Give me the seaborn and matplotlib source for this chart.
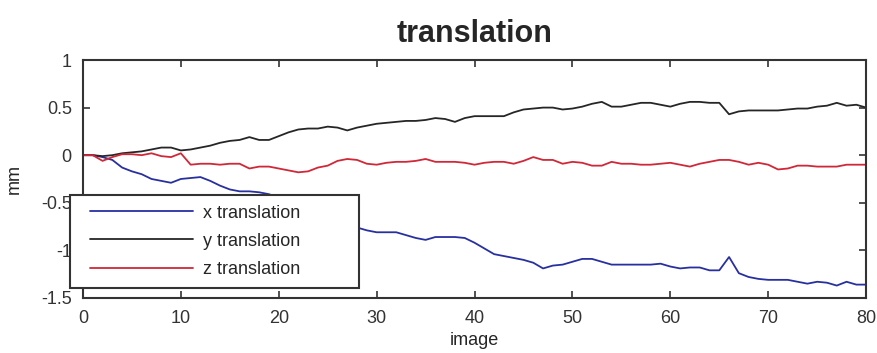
import numpy as np
import pandas as pd
import matplotlib
matplotlib.use("Agg")
import matplotlib.pyplot as plt
from matplotlib.lines import Line2D
from matplotlib.legend_handler import HandlerLine2D
import seaborn as sns

image = list(range(0, 81))

x_translation = [0, 0, -0.02, -0.05, -0.13, -0.17, -0.2, -0.25, -0.27, -0.29,
                 -0.25, -0.24, -0.23, -0.27, -0.32, -0.36, -0.38, -0.38, -0.39, -0.41,
                 -0.45, -0.5, -0.55, -0.6, -0.64, -0.68, -0.71, -0.74, -0.76, -0.79,
                 -0.81, -0.81, -0.81, -0.84, -0.87, -0.89, -0.86, -0.86, -0.86, -0.87,
                 -0.92, -0.98, -1.04, -1.06, -1.08, -1.1, -1.13, -1.19, -1.16, -1.15,
                 -1.12, -1.09, -1.09, -1.12, -1.15, -1.15, -1.15, -1.15, -1.15, -1.14,
                 -1.17, -1.19, -1.18, -1.18, -1.21, -1.21, -1.07, -1.24, -1.28, -1.3,
                 -1.31, -1.31, -1.31, -1.33, -1.35, -1.33, -1.34, -1.37, -1.33, -1.36,
                 -1.36]

y_translation = [0, 0, -0.01, 0, 0.02, 0.03, 0.04, 0.06, 0.08, 0.08,
                 0.05, 0.06, 0.08, 0.1, 0.13, 0.15, 0.16, 0.19, 0.16, 0.16,
                 0.2, 0.24, 0.27, 0.28, 0.28, 0.3, 0.29, 0.26, 0.29, 0.31,
                 0.33, 0.34, 0.35, 0.36, 0.36, 0.37, 0.39, 0.38, 0.35, 0.39,
                 0.41, 0.41, 0.41, 0.41, 0.45, 0.48, 0.49, 0.5, 0.5, 0.48,
                 0.49, 0.51, 0.54, 0.56, 0.51, 0.51, 0.53, 0.55, 0.55, 0.53,
                 0.51, 0.54, 0.56, 0.56, 0.55, 0.55, 0.43, 0.46, 0.47, 0.47,
                 0.47, 0.47, 0.48, 0.49, 0.49, 0.51, 0.52, 0.55, 0.52, 0.53,
                 0.5]

z_translation = [0, 0, -0.06, -0.02, 0.01, 0.01, 0.0, 0.02, -0.01, -0.02,
                 0.02, -0.1, -0.09, -0.09, -0.1, -0.09, -0.09, -0.14, -0.12, -0.12,
                 -0.14, -0.16, -0.18, -0.17, -0.13, -0.11, -0.06, -0.04, -0.05, -0.09,
                 -0.1, -0.08, -0.07, -0.07, -0.06, -0.04, -0.07, -0.07, -0.07, -0.08,
                 -0.1, -0.08, -0.07, -0.07, -0.09, -0.06, -0.02, -0.05, -0.05, -0.09,
                 -0.07, -0.08, -0.11, -0.11, -0.07, -0.09, -0.09, -0.1, -0.1, -0.09,
                 -0.08, -0.1, -0.12, -0.09, -0.07, -0.05, -0.05, -0.07, -0.1, -0.08,
                 -0.1, -0.15, -0.14, -0.11, -0.11, -0.12, -0.12, -0.12, -0.1, -0.1,
                 -0.1]

series_names = ["x translation", "y translation", "z translation"]
colors = ["#2830a0", "#262626", "#d02838"]

df = pd.concat([
    pd.DataFrame({"image": image, "mm": vals, "series": name})
    for name, vals in zip(series_names, [x_translation, y_translation, z_translation])
])

sns.set_style("white")
plt.rcParams["font.family"] = ["Liberation Sans", "DejaVu Sans"]

fig = plt.figure(figsize=(8.77, 3.53), dpi=100)
ax = fig.add_axes([0.0946, 0.156, 0.893, 0.674])

sns.lineplot(data=df, x="image", y="mm", hue="series", palette=colors,
             hue_order=series_names, ax=ax, linewidth=1.3, legend=True)

ax.set_xlim(0, 80)
ax.set_ylim(-1.5, 1)
ax.set_xticks(np.arange(0, 81, 10))
ax.set_yticks([-1.5, -1, -0.5, 0, 0.5, 1])
ax.set_yticklabels(["-1.5", "-1", "-0.5", "0", "0.5", "1"])
ax.tick_params(direction="in", length=5, width=1.2, labelsize=13, colors="#333333",
               top=True, right=True, bottom=True, left=True)
ax.tick_params(axis="x", pad=9)
ax.tick_params(axis="y", pad=8)
for s in ax.spines.values():
    s.set_color("#333333")
    s.set_linewidth(1.5)

ax.set_title("translation", fontsize=22, fontweight="bold", pad=13)
ax.set_xlabel("image", fontsize=13, labelpad=3)
ax.set_ylabel("mm", fontsize=13, labelpad=13)

leg = ax.legend(loc="lower left", bbox_to_anchor=(-0.017, 0.042, 0.369, 0.399),
                mode="expand", fancybox=False, edgecolor="#333333", framealpha=1,
                fontsize=13, handlelength=6.3, handletextpad=0.55,
                borderaxespad=0, labelspacing=0.62, borderpad=0.55,
                handler_map={Line2D: HandlerLine2D(xpad=0.55)})
leg.get_frame().set_linewidth(1.5)
leg.set_zorder(10)

fig.savefig("out.png", dpi=100, facecolor="white")
